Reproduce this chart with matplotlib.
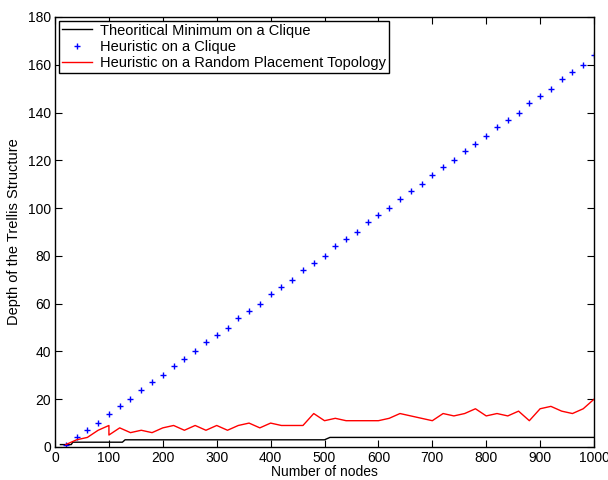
import numpy as np
import matplotlib
matplotlib.use("Agg")
import matplotlib.pyplot as plt

plt.rcParams['font.family'] = ['Liberation Sans', 'DejaVu Sans']

# Theoretical minimum (step-shaped line)
theo_x = [10, 30, 33, 125, 130, 500, 510, 1000]
theo_y = [1, 1, 2, 2, 3, 3, 4, 4]

# Heuristic on a clique (every 20 nodes)
clique_x = list(range(20, 1001, 20))
clique_y = [1, 4, 7, 10, 14, 17, 20, 24, 27, 30,
            34, 37, 40, 44, 47, 50, 54, 57, 60, 64,
            67, 70, 74, 77, 80, 84, 87, 90, 94, 97,
            100, 104, 107, 110, 114, 117, 120, 124, 127, 130,
            134, 137, 140, 144, 147, 150, 154, 157, 160, 164]

# Heuristic on a random placement topology
rand_x = [20, 40, 60, 80, 100, 100, 120, 140, 160, 180, 200,
          220, 240, 260, 280, 300, 320, 340, 360, 380, 400,
          420, 440, 460, 480, 500, 520, 540, 560, 580, 600,
          620, 640, 660, 680, 700, 720, 740, 760, 780, 800,
          820, 840, 860, 880, 900, 920, 940, 960, 980, 1000]
rand_y = [1, 3, 4, 7, 9, 5, 8, 6, 7, 6, 8,
          9, 7, 9, 7, 9, 7, 9, 10, 8, 10,
          9, 9, 9, 14, 11, 12, 11, 11, 11, 11,
          12, 14, 13, 12, 11, 14, 13, 14, 16, 13,
          14, 13, 15, 11, 16, 17, 15, 14, 16, 20]

fs = 10.5

fig = plt.figure(figsize=(6.08, 4.8), dpi=100)
ax = fig.add_axes([0.0905, 0.0688, 0.8865, 0.8958])

ax.plot(theo_x, theo_y, color='black', linewidth=1.0,
        label='Theoritical Minimum on a Clique')
ax.plot(clique_x, clique_y, linestyle='none', marker='+', color='blue',
        markersize=5, markeredgewidth=1.0, label='Heuristic on a Clique')
ax.plot(rand_x, rand_y, color='red', linewidth=1.0,
        label='Heuristic on a Random Placement Topology')

ax.set_xlim(0, 1000)
ax.set_ylim(0, 180)
ax.set_xticks(np.arange(0, 1001, 100))
ax.set_yticks(np.arange(0, 181, 20))
ax.tick_params(direction='in', top=True, right=True, length=5,
               labelsize=10, width=0.8)
ax.tick_params(axis='x', pad=3)
ax.tick_params(axis='y', pad=3)
for sp in ax.spines.values():
    sp.set_linewidth(1.0)

ax.set_xlabel('Number of nodes', fontsize=10, labelpad=0)
ax.set_ylabel('Depth of the Trellis Structure', fontsize=fs, labelpad=5)

leg = ax.legend(loc='upper left', fontsize=fs, handlelength=2.1,
                borderaxespad=0.25, borderpad=0.2, labelspacing=0.15,
                fancybox=False, framealpha=1.0, edgecolor='black',
                handletextpad=0.55, numpoints=1)
leg.get_frame().set_linewidth(1.0)

fig.savefig('out.png', dpi=100)
